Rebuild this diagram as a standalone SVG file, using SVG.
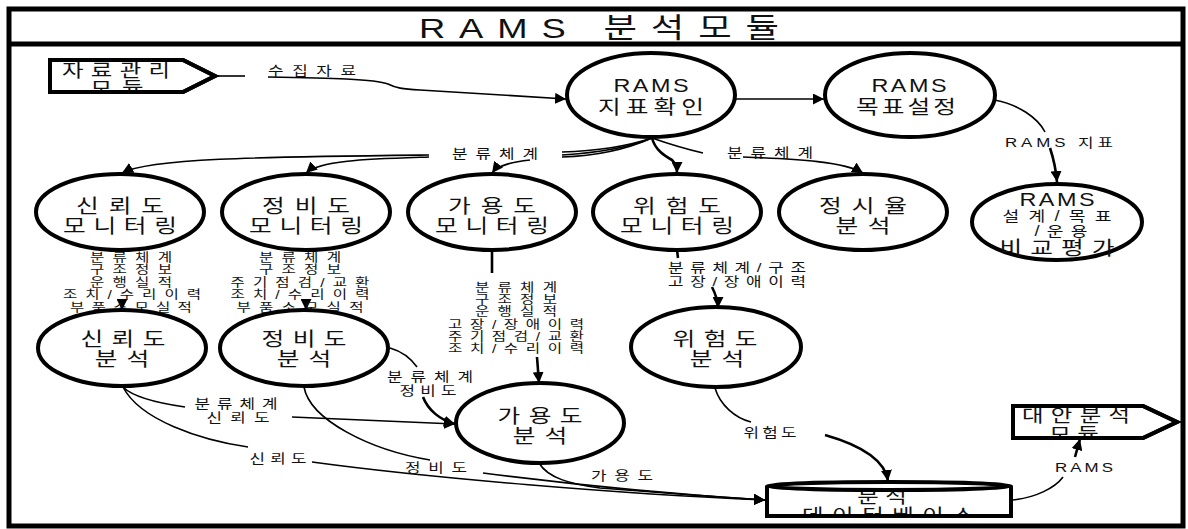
<svg xmlns="http://www.w3.org/2000/svg" width="1188" height="529" viewBox="0 0 1188 529">
<style>
text{font-family:"Liberation Sans","Noto Sans CJK KR",sans-serif;fill:#111;text-anchor:middle;transform-box:fill-box;transform-origin:center;transform:scaleX(1.3)}
.n{font-size:19px}
.r{font-size:18px}
.s{font-size:14px}
.l{font-size:13px}
.k{font-size:12px}
.m{font-size:18px}
.shape{fill:#fff;stroke:#000;stroke-width:4}
.edge{fill:none;stroke:#000;stroke-width:1.6}
.stub{fill:none;stroke:#000;stroke-width:2.6}
</style>
<defs>
<marker id="ah" viewBox="0 0 10 10" refX="10" refY="5" markerWidth="11" markerHeight="11" markerUnits="userSpaceOnUse" orient="auto"><path d="M0,0 L10,5 L0,10 z" fill="#000"/></marker>
<clipPath id="c1"><polygon points="52,62 182,62 213,76 182,90 52,90"/></clipPath>
<clipPath id="c2"><polygon points="1015,408 1142,408 1175,422 1142,436 1015,436"/></clipPath>
<clipPath id="c3"><rect x="769" y="489" width="241" height="26"/></clipPath>
</defs>
<rect width="1188" height="529" fill="#fff"/>
<g id="frame">
<rect x="9" y="9" width="1174" height="517" fill="none" stroke="#000" stroke-width="5"/>
<line x1="9" y1="44" x2="1183" y2="44" stroke="#000" stroke-width="5"/>
<text x="599" y="38" font-size="28" textLength="277">RAMS 분석모듈</text>
</g>
<g id="connectors">
<path class="edge" d="M215,76 L245,76"/>
<path class="edge" d="M268,77 C330,78 375,79 388,84 C396,88 402,89 420,90 L566,99" marker-end="url(#ah)"/>
<text class="l" x="312" y="75" textLength="67.7">수집자료</text>
<path class="edge" d="M735,99 L824,99" marker-end="url(#ah)"/>
<path class="edge" d="M994,100 C1018,104 1038,118 1045,132"/>
<path class="stub" d="M1050,148 C1054,160 1056,170 1057,182" marker-end="url(#ah)"/>
<text class="l" x="1059" y="147" textLength="83.1">RAMS 지표</text>
<path class="edge" d="M652,138 C625,147 595,151 562,152"/>
<path class="edge" d="M652,138 C625,149 595,153 562,155"/>
<path class="edge" d="M652,138 C625,150 595,156 562,157"/>
<path class="edge" d="M429,155 C260,157 150,158 122,173" marker-end="url(#ah)"/>
<path class="edge" d="M429,157 C370,159 320,160 306,173" marker-end="url(#ah)"/>
<path class="edge" d="M530,160 C512,162 498,165 492,173" marker-end="url(#ah)"/>
<text class="l" x="495" y="158" textLength="66.2">분류체계</text>
<path class="stub" d="M652,138 C655,150 665,156 672,160 C676,164 677,168 677,173" marker-end="url(#ah)"/>
<path class="edge" d="M652,138 C672,145 690,150 703,153"/>
<path class="edge" d="M743,157 C800,159 845,162 863,173" marker-end="url(#ah)"/>
<text class="l" x="770" y="157" textLength="66.2">분류체계</text>
<path class="stub" d="M122,302 L122,310" marker-end="url(#ah)"/>
<text class="k" x="131" y="262" textLength="63.1">분류체계</text>
<text class="k" x="131" y="274.5" textLength="63.1">구조정보</text>
<text class="k" x="131" y="287" textLength="63.1">운행실적</text>
<text class="k" x="132" y="299.5" textLength="106.2">조치/수리이력</text>
<text class="k" x="131" y="312" textLength="93.8">부품소모실적</text>
<path class="stub" d="M306,302 L306,310" marker-end="url(#ah)"/>
<text class="k" x="300" y="262" textLength="63.1">분류체계</text>
<text class="k" x="300" y="274.5" textLength="63.1">구조정보</text>
<text class="k" x="300" y="287" textLength="106.9">주기점검/교환</text>
<text class="k" x="300" y="299.5" textLength="106.9">조치/수리이력</text>
<text class="k" x="300" y="312" textLength="97.7">부품소모실적</text>
<path class="stub" d="M492,250 L492,273"/>
<path class="stub" d="M537,357 L539,383" marker-end="url(#ah)"/>
<text class="k" x="516" y="292" textLength="63.1">분류체계</text>
<text class="k" x="516" y="304.2" textLength="63.1">구조정보</text>
<text class="k" x="516" y="316.4" textLength="63.1">운행실적</text>
<text class="k" x="516" y="328.6" textLength="104.6">고장/장애이력</text>
<text class="k" x="516" y="340.8" textLength="104.6">주기점검/교환</text>
<text class="k" x="516" y="353" textLength="104.6">조치/수리이력</text>
<path class="stub" d="M677,250 L678,258"/>
<path class="stub" d="M712,287 C716,295 718,300 718,308" marker-end="url(#ah)"/>
<text class="l" x="737" y="272.5" textLength="106.2">분류체계/구조</text>
<text class="l" x="737" y="286" textLength="106.2">고장/장애이력</text>
<path class="edge" d="M123,387 C132,396 157,403 185,407"/>
<path class="edge" d="M292,417 C360,420 420,422 455,424" marker-end="url(#ah)"/>
<text class="l" x="236" y="408" textLength="63.8">분류체계</text>
<text class="l" x="238" y="422" textLength="48.5">신뢰도</text>
<path class="edge" d="M390,348 C404,352 412,360 417,367"/>
<path class="stub" d="M423,397 C428,410 440,420 455,424" marker-end="url(#ah)"/>
<text class="l" x="430" y="381" textLength="66.2">분류체계</text>
<text class="l" x="428" y="395" textLength="43.8">정비도</text>
<path class="edge" d="M123,387 C140,420 200,440 248,447"/>
<path class="edge" d="M312,462 C430,478 620,494 765,500" marker-end="url(#ah)"/>
<text class="l" x="278" y="463" textLength="43.8">신뢰도</text>
<path class="edge" d="M304,387 C310,420 370,450 430,460"/>
<path class="edge" d="M483,473 C600,488 700,496 765,500" marker-end="url(#ah)"/>
<text class="l" x="436" y="472" textLength="47.7">정비도</text>
<path class="edge" d="M539,463 C548,478 570,484 600,488 C680,494 730,498 765,500" marker-end="url(#ah)"/>
<text class="l" x="622" y="480" textLength="47.7">가용도</text>
<path class="edge" d="M715,388 C720,405 735,418 751,422"/>
<path class="stub" d="M825,435 C860,445 885,460 888,481" marker-end="url(#ah)"/>
<text class="l" x="770" y="437" textLength="40.8">위험도</text>
<path class="edge" d="M1012,500 C1035,498 1055,488 1063,477"/>
<path class="stub" d="M1075,457 C1077,450 1078,446 1080,439" marker-end="url(#ah)"/>
<text class="l" x="1084" y="472" textLength="44.6">RAMS</text>
</g>
<g id="n-source">
<polygon class="shape" points="50,60 183,60 215,76 183,92 50,92"/>
<g clip-path="url(#c1)">
<text class="m" x="116" y="77" textLength="83.1">자료관리</text>
<text class="m" x="117" y="95" textLength="40.8">모듈</text>
</g>
<polygon points="50,60 183,60 215,76 183,92 50,92" fill="none" stroke="#000" stroke-width="4"/>
</g>
<g id="n-check">
<ellipse class="shape" cx="651" cy="95" rx="84" ry="42"/>
<text class="r" x="651" y="92" textLength="57.7">RAMS</text>
<text class="n" x="651" y="114" textLength="81.5">지표확인</text>
</g>
<g id="n-target">
<ellipse class="shape" cx="910" cy="95" rx="85" ry="42"/>
<text class="r" x="909" y="92" textLength="57.7">RAMS</text>
<text class="n" x="906" y="114" textLength="76.9">목표설정</text>
</g>
<g id="n-compare">
<ellipse class="shape" cx="1057" cy="222" rx="85" ry="38"/>
<text class="r" x="1057" y="206" textLength="57.7">RAMS</text>
<text class="s" x="1057" y="221" textLength="83.8">설계/목표</text>
<text class="s" x="1061" y="236" textLength="40.8">/운용</text>
<text class="n" x="1057" y="255" textLength="88.5">비교평가</text>
</g>
<g id="n-rmon">
<ellipse class="shape" cx="120" cy="212" rx="84" ry="38"/>
<text class="n" x="120" y="213" textLength="67.7">신뢰도</text>
<text class="n" x="120" y="233" textLength="87.7">모니터링</text>
</g>
<g id="n-mmon">
<ellipse class="shape" cx="306" cy="212" rx="84" ry="38"/>
<text class="n" x="306" y="213" textLength="67.7">정비도</text>
<text class="n" x="306" y="233" textLength="87.7">모니터링</text>
</g>
<g id="n-amon">
<ellipse class="shape" cx="492" cy="212" rx="84" ry="38"/>
<text class="n" x="492" y="213" textLength="67.7">가용도</text>
<text class="n" x="492" y="233" textLength="87.7">모니터링</text>
</g>
<g id="n-smon">
<ellipse class="shape" cx="677" cy="212" rx="84" ry="38"/>
<text class="n" x="677" y="213" textLength="67.7">위험도</text>
<text class="n" x="677" y="233" textLength="87.7">모니터링</text>
</g>
<g id="n-punct">
<ellipse class="shape" cx="863" cy="212" rx="84" ry="38"/>
<text class="n" x="863" y="213" textLength="67.7">정시율</text>
<text class="n" x="863" y="233" textLength="42.3">분석</text>
</g>
<g id="n-ranal">
<ellipse class="shape" cx="122" cy="348" rx="84" ry="38"/>
<text class="n" x="123" y="346" textLength="65.4">신뢰도</text>
<text class="n" x="122" y="366" textLength="42">분석</text>
</g>
<g id="n-manal">
<ellipse class="shape" cx="304" cy="348" rx="84" ry="38"/>
<text class="n" x="304" y="346" textLength="65.4">정비도</text>
<text class="n" x="304" y="366" textLength="42">분석</text>
</g>
<g id="n-aanal">
<ellipse class="shape" cx="540" cy="423" rx="84" ry="40"/>
<text class="n" x="540" y="423" textLength="65.4">가용도</text>
<text class="n" x="540" y="443" textLength="42">분석</text>
</g>
<g id="n-sanal">
<ellipse class="shape" cx="716" cy="347" rx="85" ry="40"/>
<text class="n" x="715" y="346" textLength="65.4">위험도</text>
<text class="n" x="717" y="366" textLength="42">분석</text>
</g>
<g id="n-db">
<path class="shape" d="M767,486 L767,516 L1011,516 L1011,486"/>
<g clip-path="url(#c3)">
<text class="m" x="882" y="503" textLength="38">분석</text>
<text class="m" x="888" y="522" textLength="132.3">데이터베이스</text>
</g>
<ellipse class="shape" cx="889" cy="486" rx="122" ry="4"/>
<path d="M767,486 L767,516 L1011,516 L1011,486" fill="none" stroke="#000" stroke-width="4"/>
</g>
<g id="n-alt">
<polygon class="shape" points="1013,406 1143,406 1177,422 1143,438 1013,438"/>
<g clip-path="url(#c2)">
<text class="m" x="1076" y="422" textLength="83.1">대안분석</text>
<text class="m" x="1074" y="441" textLength="38">모듈</text>
</g>
<polygon points="1013,406 1143,406 1177,422 1143,438 1013,438" fill="none" stroke="#000" stroke-width="4"/>
</g>
</svg>
